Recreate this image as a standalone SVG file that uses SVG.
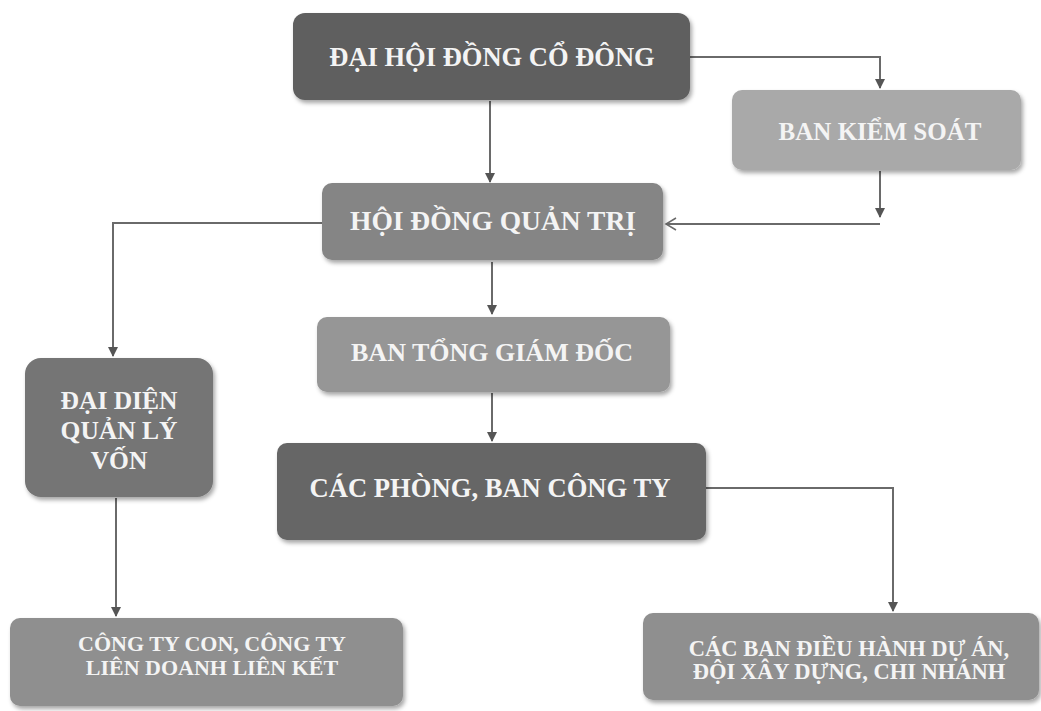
<svg xmlns="http://www.w3.org/2000/svg" width="1041" height="711" viewBox="0 0 1041 711">
<defs>
<style>
.t{font-family:"Liberation Serif","Times New Roman",serif;font-weight:bold;fill:#f4f4f4;text-anchor:middle;}
.c{fill:none;stroke:#6a6a6a;stroke-width:2;}
.box{stroke:none;filter:url(#sh);}
</style>
<filter id="sh" x="-5%" y="-10%" width="112%" height="125%">
<feDropShadow dx="2" dy="3" stdDeviation="2" flood-color="#000" flood-opacity="0.35"/>
</filter>
<marker id="ar" markerWidth="10" markerHeight="10" refX="9" refY="5" orient="auto" markerUnits="userSpaceOnUse">
<path d="M0,0 L10,5 L0,10 z" fill="#555"/>
</marker>
<marker id="open" markerWidth="14" markerHeight="14" refX="12" refY="7" orient="auto" markerUnits="userSpaceOnUse">
<path d="M2,1 L12,7 L2,13" fill="none" stroke="#6a6a6a" stroke-width="1.5"/>
</marker>
</defs>
<rect width="1041" height="711" fill="#ffffff"/>
<g id="connectors">
<path class="c" d="M690,57 H880 V88" marker-end="url(#ar)"/>
<path class="c" d="M490,101 V182" marker-end="url(#ar)"/>
<path class="c" d="M880,171 V217" marker-end="url(#ar)"/>
<path class="c" d="M880,224 H666" marker-end="url(#open)"/>
<path class="c" d="M322,223 H113 V356" marker-end="url(#ar)"/>
<path class="c" d="M492,262 V314" marker-end="url(#ar)"/>
<path class="c" d="M492,393 V441" marker-end="url(#ar)"/>
<path class="c" d="M706,488 H893 V611" marker-end="url(#ar)"/>
<path class="c" d="M116,498 V616" marker-end="url(#ar)"/>
</g>
<g id="dhdcd">
<rect class="box" x="293" y="13" width="397" height="87" rx="12" fill="#5f5f5f"/>
<text class="t" x="492" y="66" font-size="26.5">ĐẠI HỘI ĐỒNG CỔ ĐÔNG</text>
</g>
<g id="bks">
<rect class="box" x="732" y="90" width="289" height="80" rx="10" fill="#a9a9a9"/>
<text class="t" x="880" y="140" font-size="25">BAN KIỂM SOÁT</text>
</g>
<g id="hdqt">
<rect class="box" x="322" y="183" width="341" height="77" rx="10" fill="#858585"/>
<text class="t" x="493" y="230" font-size="27.5">HỘI ĐỒNG QUẢN TRỊ</text>
</g>
<g id="btgd">
<rect class="box" x="317" y="317" width="353" height="75" rx="10" fill="#969696"/>
<text class="t" x="492" y="361" font-size="26">BAN TỔNG GIÁM ĐỐC</text>
</g>
<g id="cacphong">
<rect class="box" x="277" y="443" width="429" height="97" rx="10" fill="#666666"/>
<text class="t" x="490" y="497" font-size="26.6">CÁC PHÒNG, BAN CÔNG TY</text>
</g>
<g id="daidien">
<rect class="box" x="25" y="358" width="188" height="139" rx="16" fill="#747474"/>
<text class="t" x="119" y="409" font-size="25.5">ĐẠI DIỆN</text>
<text class="t" x="119" y="439" font-size="25.5">QUẢN LÝ</text>
<text class="t" x="119" y="469" font-size="25.5">VỐN</text>
</g>
<g id="congtycon">
<rect class="box" x="10" y="618" width="393" height="88" rx="10" fill="#8f8f8f"/>
<text class="t" x="212" y="651" font-size="22">CÔNG TY CON, CÔNG TY</text>
<text class="t" x="212" y="675" font-size="22">LIÊN DOANH LIÊN KẾT</text>
</g>
<g id="banđieuhanh">
<rect class="box" x="643" y="613" width="396" height="87" rx="10" fill="#8f8f8f"/>
<text class="t" x="849" y="656" font-size="22.5">CÁC BAN ĐIỀU HÀNH DỰ ÁN,</text>
<text class="t" x="849" y="679" font-size="22.5">ĐỘI XÂY DỰNG, CHI NHÁNH</text>
</g>
</svg>
